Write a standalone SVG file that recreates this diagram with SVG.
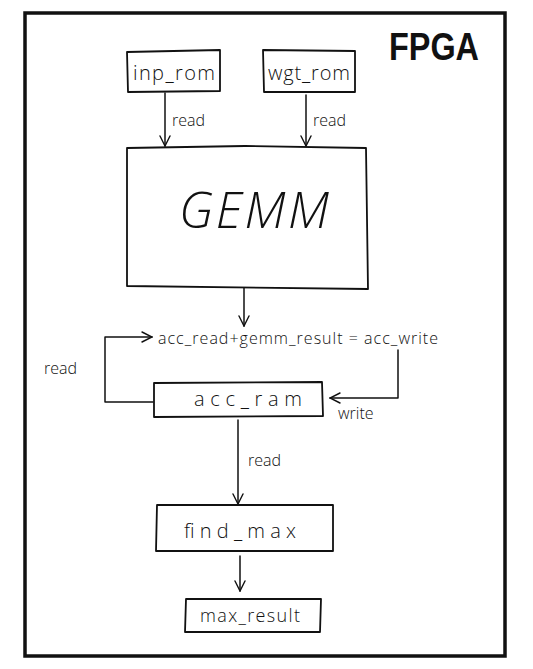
<svg xmlns="http://www.w3.org/2000/svg" width="533" height="669" viewBox="0 0 533 669">
<defs>
<marker id="ah" viewBox="0 0 12 12" refX="11" refY="6" markerWidth="12" markerHeight="12" markerUnits="userSpaceOnUse" orient="auto">
<path d="M1,1 L11,6 L1,11" fill="none" stroke="#111" stroke-width="1.4" stroke-linecap="round"/>
</marker>
<style>
.box{fill:#fff;stroke:#111;stroke-width:1.8;stroke-linejoin:round}
.edge{fill:none;stroke:#111;stroke-width:1.5;stroke-linecap:round;stroke-linejoin:round}
.t{font-family:"Open Sans","DejaVu Sans",sans-serif;font-weight:300;fill:#111;text-anchor:middle}
.lbl{font-family:"Open Sans","DejaVu Sans",sans-serif;font-weight:300;fill:#111;font-size:16px}
</style>
</defs>
<rect width="533" height="669" fill="#fff"/>
<g id="fpga">
<rect x="25" y="13" width="480" height="643" fill="none" stroke="#111" stroke-width="3.5"/>
<text x="434" y="60" font-family="'Liberation Sans','DejaVu Sans',sans-serif" font-weight="bold" font-size="38" fill="#111" text-anchor="middle" textLength="90" lengthAdjust="spacingAndGlyphs">FPGA</text>
</g>
<g id="connectors">
<path class="edge" d="M165,93 L165,146" marker-end="url(#ah)"/>
<path class="edge" d="M306,95 L306,146" marker-end="url(#ah)"/>
<path class="edge" d="M244,288 L244,326" marker-end="url(#ah)"/>
<path class="edge" d="M153,402 L105,402 L105,337 L152,337" marker-end="url(#ah)"/>
<path class="edge" d="M398,350 L398,398 L330,398" marker-end="url(#ah)"/>
<path class="edge" d="M238,420 L238,504" marker-end="url(#ah)"/>
<path class="edge" d="M240,556 L240,591" marker-end="url(#ah)"/>
<text class="lbl" x="172" y="126">read</text>
<text class="lbl" x="313" y="126">read</text>
<text class="lbl" x="44" y="374">read</text>
<text class="lbl" x="338" y="419">write</text>
<text class="lbl" x="248" y="466">read</text>
</g>
<g id="inp_rom">
<path class="box" d="M127,52 L220,50 L220,91 L128,92 Z"/>
<text class="t" x="174" y="80" font-size="20" textLength="82" lengthAdjust="spacing">inp_rom</text>
</g>
<g id="wgt_rom">
<path class="box" d="M263,50 L355,51 L355,92 L264,92 Z"/>
<text class="t" x="309" y="80" font-size="20" textLength="82" lengthAdjust="spacing">wgt_rom</text>
</g>
<g id="gemm">
<path class="box" d="M127,148 L245,146 L366,148 L368,289 L127,286 Z"/>
<text class="t" x="254" y="228" font-size="50" font-style="italic" textLength="150" lengthAdjust="spacing">GEMM</text>
</g>
<g id="equation">
<text class="lbl" x="158" y="344" font-size="16" textLength="280" lengthAdjust="spacing">acc_read+gemm_result = acc_write</text>
</g>
<g id="acc_ram">
<path class="box" d="M154,383 L322,382 L323,416 L154,417 Z"/>
<text class="t" x="248" y="406" font-size="20" textLength="108" lengthAdjust="spacing">acc_ram</text>
</g>
<g id="find_max">
<path class="box" d="M157,505 L333,505 L333,551 L156,551 Z"/>
<text class="t" x="240" y="538" font-size="20" textLength="112" lengthAdjust="spacing">find_max</text>
</g>
<g id="max_result">
<path class="box" d="M186,599 L321,599 L320,632 L185,632 Z"/>
<text class="t" x="250" y="622" font-size="18" textLength="100" lengthAdjust="spacing">max_result</text>
</g>
</svg>
